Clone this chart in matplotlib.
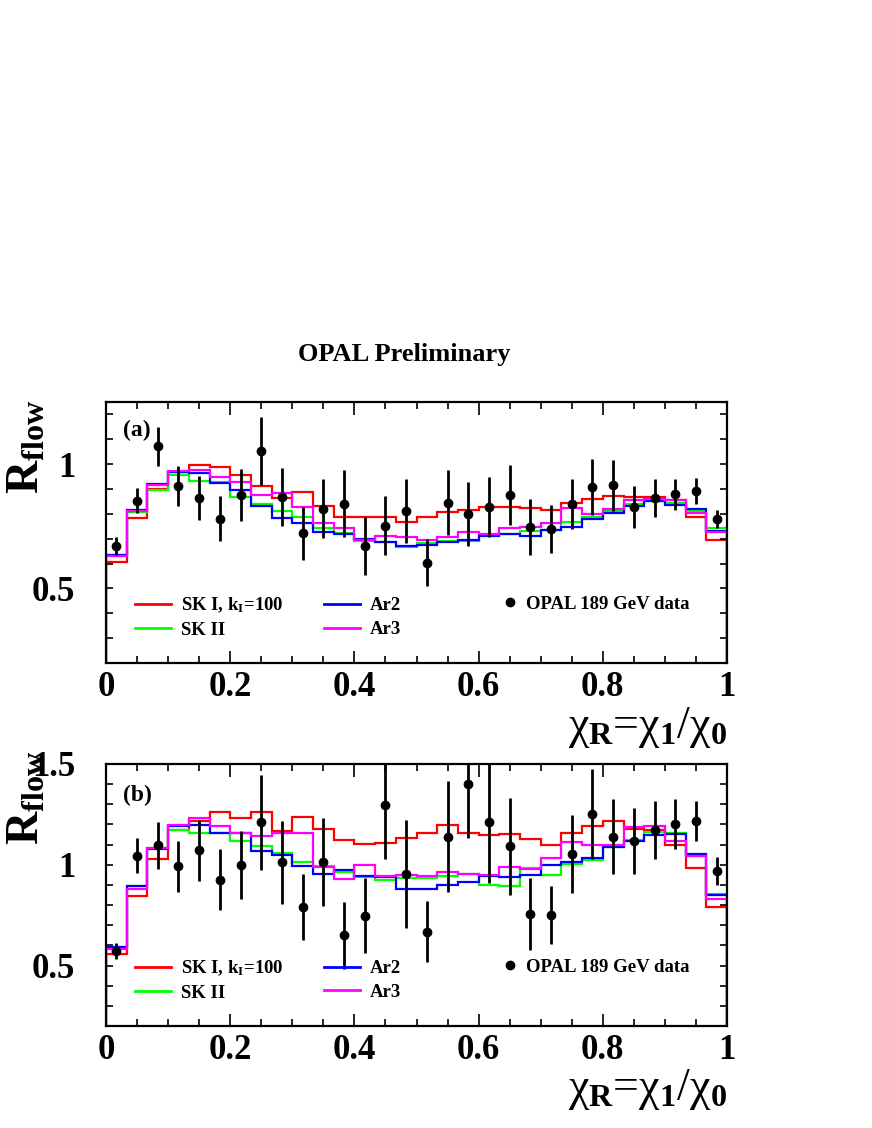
import numpy as np
import matplotlib
matplotlib.use('Agg')
import matplotlib.pyplot as plt
from matplotlib.ticker import MultipleLocator

plt.rcParams['font.family'] = ['Liberation Serif', 'DejaVu Serif']
plt.rcParams['mathtext.fontset'] = 'custom'
plt.rcParams['mathtext.rm'] = 'Liberation Serif'
plt.rcParams['mathtext.bf'] = 'Liberation Serif:bold'
plt.rcParams['mathtext.it'] = 'Liberation Serif:italic'

# 30 bins in chi_R from 0 to 1
nbins = 30

# ---- panel (a) ----
data_a = [0.671, 0.853, 1.071, 0.913, 0.864, 0.781, 0.876, 1.053, 0.869, 0.721,
          0.821, 0.841, 0.672, 0.753, 0.811, 0.603, 0.845, 0.800, 0.829, 0.876,
          0.747, 0.740, 0.840, 0.907, 0.915, 0.828, 0.864, 0.879, 0.892, 0.779]
err_a = [0.037, 0.050, 0.078, 0.080, 0.087, 0.089, 0.105, 0.137, 0.117, 0.107,
         0.118, 0.136, 0.117, 0.117, 0.130, 0.095, 0.130, 0.128, 0.121, 0.122,
         0.113, 0.097, 0.102, 0.113, 0.103, 0.083, 0.077, 0.062, 0.051, 0.035]
sk1_a = [0.607, 0.783, 0.900, 0.967, 0.997, 0.989, 0.956, 0.913, 0.863, 0.889,
         0.833, 0.789, 0.789, 0.787, 0.769, 0.787, 0.808, 0.817, 0.828, 0.828,
         0.823, 0.817, 0.844, 0.860, 0.873, 0.867, 0.869, 0.856, 0.789, 0.696]
sk2_a = [0.636, 0.807, 0.897, 0.957, 0.933, 0.927, 0.869, 0.840, 0.811, 0.787,
         0.744, 0.723, 0.689, 0.687, 0.667, 0.683, 0.691, 0.691, 0.713, 0.717,
         0.733, 0.736, 0.769, 0.789, 0.813, 0.840, 0.853, 0.843, 0.811, 0.743]
ar2_a = [0.636, 0.817, 0.920, 0.969, 0.963, 0.923, 0.896, 0.833, 0.784, 0.763,
         0.727, 0.717, 0.699, 0.687, 0.672, 0.673, 0.687, 0.696, 0.711, 0.720,
         0.711, 0.736, 0.747, 0.780, 0.803, 0.833, 0.853, 0.837, 0.819, 0.733]
ar3_a = [0.631, 0.811, 0.917, 0.973, 0.977, 0.949, 0.927, 0.877, 0.883, 0.827,
         0.763, 0.743, 0.693, 0.711, 0.707, 0.693, 0.707, 0.727, 0.720, 0.744,
         0.749, 0.763, 0.823, 0.800, 0.820, 0.857, 0.860, 0.856, 0.803, 0.727]

# ---- panel (b) ----
data_b = [0.574, 1.045, 1.096, 0.992, 1.071, 0.926, 0.997, 1.210, 1.012, 0.790,
          1.013, 0.650, 0.748, 1.297, 0.954, 0.667, 1.140, 1.401, 1.210, 1.092,
          0.756, 0.749, 1.054, 1.252, 1.140, 1.119, 1.173, 1.203, 1.218, 0.970]
err_b = [0.040, 0.086, 0.115, 0.126, 0.151, 0.150, 0.169, 0.235, 0.205, 0.163,
         0.217, 0.165, 0.186, 0.270, 0.270, 0.151, 0.275, 0.270, 0.300, 0.240,
         0.180, 0.144, 0.195, 0.223, 0.185, 0.165, 0.142, 0.123, 0.100, 0.070]
sk1_b = [0.558, 0.843, 1.028, 1.173, 1.219, 1.264, 1.234, 1.261, 1.170, 1.239,
         1.178, 1.124, 1.104, 1.107, 1.132, 1.157, 1.198, 1.157, 1.149, 1.152,
         1.127, 1.096, 1.160, 1.190, 1.215, 1.178, 1.173, 1.099, 0.983, 0.789]
sk2_b = [0.592, 0.893, 1.083, 1.173, 1.160, 1.160, 1.120, 1.091, 1.058, 1.012,
         0.995, 0.962, 0.937, 0.922, 0.934, 0.934, 0.946, 0.955, 0.901, 0.896,
         0.983, 0.950, 1.003, 1.025, 1.087, 1.124, 1.165, 1.157, 1.050, 0.856]
ar2_b = [0.592, 0.893, 1.078, 1.190, 1.198, 1.160, 1.160, 1.066, 1.050, 0.992,
         0.954, 0.975, 0.946, 0.937, 0.880, 0.880, 0.901, 0.913, 0.946, 0.937,
         0.947, 1.000, 1.013, 1.033, 1.087, 1.120, 1.149, 1.152, 1.053, 0.848]
ar3_b = [0.584, 0.880, 1.083, 1.198, 1.231, 1.193, 1.160, 1.144, 1.160, 1.160,
         0.988, 0.929, 1.000, 0.942, 0.950, 0.946, 0.962, 0.955, 0.950, 0.987,
         0.979, 1.033, 1.111, 1.099, 1.099, 1.185, 1.193, 1.120, 1.045, 0.830]

labels = ['SK I, k$_\\mathbf{I}$=100', 'SK II', 'Ar2', 'Ar3']
colors = ['#ff0000', '#00ff00', '#0000ff', '#ff00ff']

edges = np.linspace(0, 1, nbins + 1)
centers = 0.5 * (edges[:-1] + edges[1:])

W, H = 872, 1128
fig = plt.figure(figsize=(W / 100, H / 100), dpi=100)

fig.text(404 / W, 1 - 354 / H, 'OPAL Preliminary', ha='center', va='center',
         fontsize=19, fontweight='bold')


def panel(top, bottom, hists, data, err, ylim, tag, ylab_top):
    ax = fig.add_axes([106 / W, 1 - bottom / H, 621 / W, (bottom - top) / H])
    for vals, c, lab in zip(hists, colors, labels):
        ax.stairs(vals, edges, baseline=0.0, color=c, lw=1.6, label=lab)
    ax.errorbar(centers, data, yerr=err, fmt='o', color='k', ms=6,
                elinewidth=2, capsize=0, label='OPAL 189 GeV data')
    ax.set_xlim(0, 1)
    ax.set_ylim(*ylim)

    ax.xaxis.set_major_locator(MultipleLocator(0.2))
    ax.xaxis.set_minor_locator(MultipleLocator(0.05))
    ax.yaxis.set_major_locator(MultipleLocator(0.5))
    ax.yaxis.set_minor_locator(MultipleLocator(0.1))
    ax.xaxis.set_major_formatter(plt.FuncFormatter(lambda v, p: ('%g' % v)))
    ax.yaxis.set_major_formatter(plt.FuncFormatter(lambda v, p: ('%g' % v)))
    ax.tick_params(which='both', direction='in', top=True, right=True, width=1.2)
    ax.tick_params(axis='x', which='major', length=9, pad=6, labelsize=25)
    ax.tick_params(axis='x', which='minor', length=5)
    ax.tick_params(axis='y', which='both', length=5, labelsize=25, pad=22)
    for lab in ax.get_xticklabels() + ax.get_yticklabels():
        lab.set_fontweight('bold')
    for s in ax.spines.values():
        s.set_linewidth(1.6)

    leg1 = ax.legend(handles=[
        plt.Line2D([], [], color=c, lw=2) for c in colors], labels=labels,
        ncol=2, loc='upper left', bbox_to_anchor=(0.047, 0.258),
        frameon=False, borderpad=0, borderaxespad=0, handlelength=1.9,
        handletextpad=0.55, columnspacing=2.15, labelspacing=0.35,
        prop={'weight': 'bold', 'size': 13.5})
    ax.add_artist(leg1)
    ax.legend(handles=[plt.Line2D([], [], color='k', marker='o', ls='none', ms=6)],
              labels=['OPAL 189 GeV data'], loc='upper left',
              bbox_to_anchor=(0.636, 0.258), frameon=False, borderpad=0,
              borderaxespad=0, handlelength=1.0, handletextpad=0.35,
              prop={'weight': 'bold', 'size': 13.5})

    ax.text((123 - 106) / 621, 1 - (tag[1] - top) / (bottom - top), tag[0],
            transform=ax.transAxes, ha='left', va='center', fontsize=17,
            fontweight='bold')

    fig.text(6 / W, 1 - ylab_top / H, '$\\mathbf{R}_{\\mathbf{flow}}$',
             rotation=90, ha='left', va='top', fontsize=33)
    fig.text(727 / W, 1 - (bottom + 64) / H,
             'χ$_\\mathbf{R}$=χ$_\\mathbf{1}$/χ$_\\mathbf{0}$',
             ha='right', va='center', fontsize=33)
    return ax


panel(402, 663, [sk1_a, sk2_a, ar2_a, ar3_a], data_a, err_a, (0.2, 1.25),
      ('(a)', 430), 400)
panel(764, 1026, [sk1_b, sk2_b, ar2_b, ar3_b], data_b, err_b, (0.2, 1.5),
      ('(b)', 795), 751)

fig.savefig('out.png', dpi=100)
